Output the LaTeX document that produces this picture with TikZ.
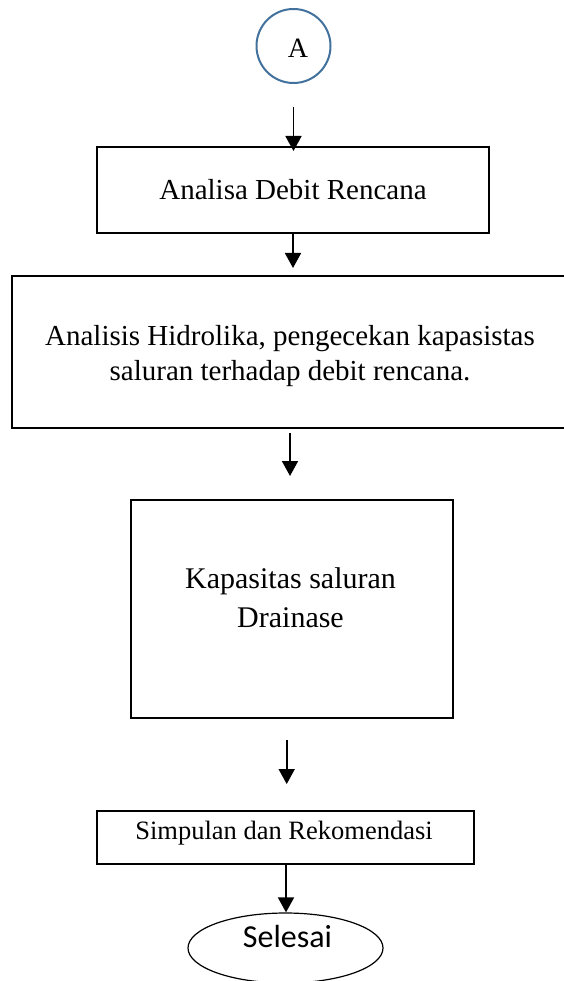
\documentclass[tikz,border=0pt]{standalone}
\usepackage{fontspec}
\setmainfont{Liberation Serif}
\newfontfamily\calibri{Carlito}
\usetikzlibrary{arrows.meta,shapes.geometric}
\definecolor{circblue}{RGB}{65,113,156}

\begin{document}
\begin{tikzpicture}[x=1pt,y=-1pt,
  box/.style={draw, line width=2pt, inner sep=0pt, align=center},
  arr/.style={-{Triangle[width=16pt,length=15pt]}, line width=1.7pt},
  txt/.style={inner sep=0pt, align=center}]
  \useasboundingbox (0,0) rectangle (564,981);
  % start and end
  \node[draw=circblue, circle, line width=2pt, minimum size=74pt, inner sep=0pt] (A) at (293.5,46) {};
  \node[txt, font=\fontsize{28}{32}\selectfont] (Atxt) at (298,48.5) {A};
  \node[draw, ellipse, line width=1.2pt, minimum width=195pt, minimum height=70pt,
        inner sep=0pt] (selesai) at (285.5,948) {};
  \node[txt, font=\calibri\fontsize{32}{38}\selectfont] (selesaitxt) at (287.5,936) {Selesai};
  % steps
  \node[box, minimum width=392pt, minimum height=86pt, font=\fontsize{29}{35}\selectfont]
    (debit) at (293,190) {Analisa Debit Rencana};
  \node[box, minimum width=554pt, minimum height=152pt] (hidro) at (289,352) {};
  \node[txt, font=\fontsize{29}{35}\selectfont] (hidrotxt) at (290,356)
    {Analisis Hidrolika, pengecekan kapasistas\\saluran terhadap debit rencana.};
  \node[box, minimum width=322pt, minimum height=218pt] (kap) at (291.7,609) {};
  \node[txt, font=\fontsize{30}{39}\selectfont] (kaptxt) at (290.5,598) {Kapasitas saluran\\Drainase};
  \node[box, minimum width=377pt, minimum height=53.5pt] (simp) at (285.7,837.3) {};
  \node[txt, font=\fontsize{26.5}{32}\selectfont] (simptxt) at (284,833) {Simpulan dan Rekomendasi};
  % arrows
  \coordinate (ax3) at (290,0);
  \coordinate (ax4) at (286.7,0);
  \coordinate (ax5) at (286,0);
  \draw[arr, shorten <=23.5pt, shorten >=-5pt] (A.south) -- (A.south |- debit.north);
  \draw[arr, shorten >=7pt] (debit.south) -- (debit.south |- hidro.north);
  \draw[arr, shorten <=4pt, shorten >=23pt] (hidro.south -| ax3) -- (kap.north -| ax3);
  \draw[arr, shorten <=21pt, shorten >=25.5pt] (kap.south -| ax4) -- (simp.north -| ax4);
  \draw[arr] (simp.south -| ax5) -- (selesai.north -| ax5);
\end{tikzpicture}
\end{document}
